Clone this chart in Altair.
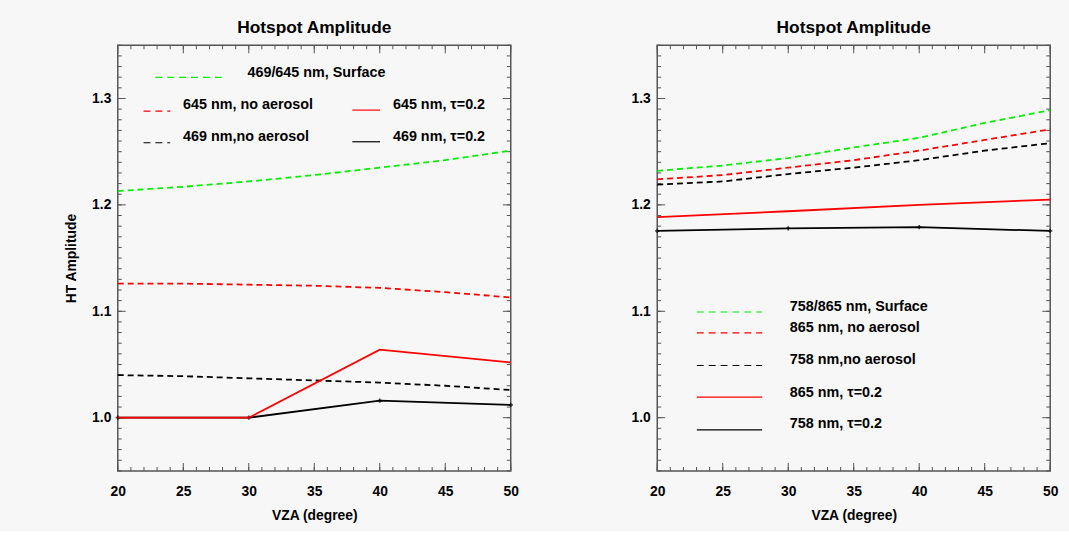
import altair as alt
import pandas as pd
import numpy as np

# ---------------- data ----------------
VZA_FINE = [20, 25, 30, 35, 40, 45, 50]
VZA_COARSE = [20, 30, 40, 50]

# Left panel (469 / 645 nm)
L_SURF = [1.213, 1.217, 1.222, 1.228, 1.235, 1.242, 1.251]
L_645_NOAER = [1.126, 1.126, 1.125, 1.124, 1.122, 1.118, 1.113]
L_469_NOAER = [1.040, 1.039, 1.037, 1.035, 1.033, 1.030, 1.026]
L_645_TAU = [1.000, 1.000, 1.064, 1.052]
L_469_TAU = [1.000, 1.000, 1.016, 1.012]

# Right panel (758 / 865 nm)
R_SURF = [1.232, 1.237, 1.244, 1.254, 1.263, 1.277, 1.289]
R_865_NOAER = [1.224, 1.228, 1.235, 1.242, 1.251, 1.261, 1.271]
R_758_NOAER = [1.219, 1.222, 1.229, 1.235, 1.242, 1.251, 1.258]
R_865_TAU = [1.1885, 1.194, 1.200, 1.205]
R_758_TAU = [1.1755, 1.178, 1.179, 1.1755]

LEFT_LABELS = ["469/645 nm, Surface", "645 nm, no aerosol", "645 nm, τ=0.2",
               "469 nm,no aerosol", "469 nm, τ=0.2"]
RIGHT_LABELS = ["758/865 nm, Surface", "865 nm, no aerosol", "758 nm,no aerosol",
                "865 nm, τ=0.2", "758 nm, τ=0.2"]

X_MAJOR = [20, 25, 30, 35, 40, 45, 50]
X_MINOR = list(range(20, 51))
Y_MAJOR = [1.0, 1.1, 1.2, 1.3]
Y_MINOR = [round(v, 2) for v in np.arange(0.95, 1.3501, 0.01)]

TITLE = "Hotspot Amplitude"
X_TITLE = "VZA (degree)"
Y_TITLE = "HT  Amplitude"

# ---------------- style ----------------
W, H = 397, 430
FONT = "Liberation Sans"
FS = 14
LFS = 14.5
GREEN, RED, BLACK = "#00f000", "#ff0000", "#000000"
DASH = [6, 4]
FRAME = "#555555"
MAJ, MIN = 8, 4

xscale = alt.Scale(domain=[20, 50], nice=False, zero=False)
yscale = alt.Scale(domain=[0.95, 1.35], nice=False, zero=False)


def x_axis():
    return alt.Axis(values=X_MAJOR, ticks=False, domain=False, grid=False,
                    labelPadding=14, labelFont=FONT, labelFontSize=FS,
                    labelFontWeight="bold", labelColor="black", title=X_TITLE,
                    titleFont=FONT, titleFontSize=FS, titleFontWeight="bold",
                    titleColor="black", titlePadding=10, labelFlush=False)


def y_axis(show_title):
    kw = dict(values=Y_MAJOR, ticks=False, domain=False, grid=False, format=".1f",
              labelPadding=7, labelFont=FONT, labelFontSize=FS,
              labelFontWeight="bold", labelColor="black")
    if show_title:
        kw.update(title=Y_TITLE, titleFont=FONT, titleFontSize=FS,
                  titleFontWeight="bold", titleColor="black", titlePadding=13)
    else:
        kw.update(title=None)
    return alt.Axis(**kw)


def series_layer(xs, ys, color, dashed, width=1.8, points=False):
    df = pd.DataFrame({"vza": xs, "val": ys})
    kw = dict(stroke=color, color=color, strokeWidth=width)
    if dashed:
        kw["strokeDash"] = DASH
    line = alt.Chart(df).mark_line(**kw).encode(
        x=alt.X("vza:Q", scale=xscale, axis=x_axis()),
        y=alt.Y("val:Q", scale=yscale),
    )
    if points:
        pts = alt.Chart(df).mark_point(shape="cross", size=18, filled=True,
                                       color=color).encode(
            x=alt.X("vza:Q", scale=xscale), y=alt.Y("val:Q", scale=yscale))
        return line + pts
    return line


def tick_layers(show_title):
    yax = y_axis(show_title)
    layers = []
    for vals, L in ((X_MINOR, MIN), (X_MAJOR, MAJ)):
        df = pd.DataFrame({"xt": vals})
        for ypos in (H - L / 2, L / 2):
            layers.append(alt.Chart(df).mark_tick(
                orient="vertical", size=L, thickness=1, color=FRAME, opacity=1
            ).encode(x=alt.X("xt:Q", scale=xscale, axis=x_axis()),
                     y=alt.value(ypos)))
    for vals, L in ((Y_MINOR, MIN), (Y_MAJOR, MAJ)):
        df = pd.DataFrame({"yt": vals})
        for xpos in (L / 2, W - L / 2):
            layers.append(alt.Chart(df).mark_tick(
                orient="horizontal", size=L, thickness=1, color=FRAME, opacity=1
            ).encode(y=alt.Y("yt:Q", scale=yscale, axis=yax),
                     x=alt.value(xpos)))
    return layers


def legend_entry(label, color, dashed, x1, x2, ly, tx, ty):
    kw = dict(stroke=color, color=color, strokeWidth=1.2)
    if dashed:
        kw["strokeDash"] = [7, 5]
    d = pd.DataFrame({"label": [label]})
    rule = alt.Chart(d).mark_rule(**kw).encode(
        x=alt.value(x1), x2=alt.value(x2), y=alt.value(ly + 0.5))
    text = alt.Chart(d).mark_text(align="left", baseline="middle", font=FONT,
                                  fontSize=LFS, fontWeight="bold",
                                  color="black").encode(
        x=alt.value(tx), y=alt.value(ty), text="label:N")
    return [rule, text]


title = alt.TitleParams(TITLE, font=FONT, fontSize=17.5, fontWeight="bold",
                        color="black", offset=8)

# ---------------- left panel ----------------
left_layers = tick_layers(True)
left_layers += [
    series_layer(VZA_FINE, L_SURF, GREEN, True),
    series_layer(VZA_FINE, L_645_NOAER, RED, True),
    series_layer(VZA_FINE, L_469_NOAER, BLACK, True),
    series_layer(VZA_COARSE, L_469_TAU, BLACK, False, points=True),
    series_layer(VZA_COARSE, L_645_TAU, RED, False),
]
left_layers += legend_entry(LEFT_LABELS[0], GREEN, True, 38, 106, 32, 131, 28)
left_layers += legend_entry(LEFT_LABELS[1], RED, True, 26, 53, 66, 66, 60)
left_layers += legend_entry(LEFT_LABELS[2], RED, False, 237, 265, 65, 278, 60)
left_layers += legend_entry(LEFT_LABELS[3], BLACK, True, 26, 53, 98, 66, 93)
left_layers += legend_entry(LEFT_LABELS[4], BLACK, False, 237, 265, 97, 278, 93)

left = alt.layer(*left_layers).properties(width=W, height=H, title=title)

# ---------------- right panel ----------------
right_layers = tick_layers(False)
right_layers += [
    series_layer(VZA_FINE, R_SURF, GREEN, True),
    series_layer(VZA_FINE, R_865_NOAER, RED, True),
    series_layer(VZA_FINE, R_758_NOAER, BLACK, True),
    series_layer(VZA_COARSE, R_865_TAU, RED, False),
    series_layer(VZA_COARSE, R_758_TAU, BLACK, False, points=True),
]
right_layers += legend_entry(RIGHT_LABELS[0], GREEN, True, 40, 106, 269, 134, 264)
right_layers += legend_entry(RIGHT_LABELS[1], RED, True, 40, 106, 290, 134, 286)
right_layers += legend_entry(RIGHT_LABELS[2], BLACK, True, 40, 106, 323, 134, 318)
right_layers += legend_entry(RIGHT_LABELS[3], RED, False, 40, 106, 355, 134, 351)
right_layers += legend_entry(RIGHT_LABELS[4], BLACK, False, 40, 106, 388, 134, 383)

right = alt.layer(*right_layers).properties(width=W, height=H, title=title)

chart = alt.hconcat(left, right, spacing=111).properties(
    padding={"left": 64, "top": 16, "right": 10, "bottom": 5},
    background="#f7f7f7",
).configure_view(stroke=FRAME, strokeWidth=1.5).configure_title(anchor="middle")

chart.save("out.html", embed_options={"renderer": "svg", "actions": False})
